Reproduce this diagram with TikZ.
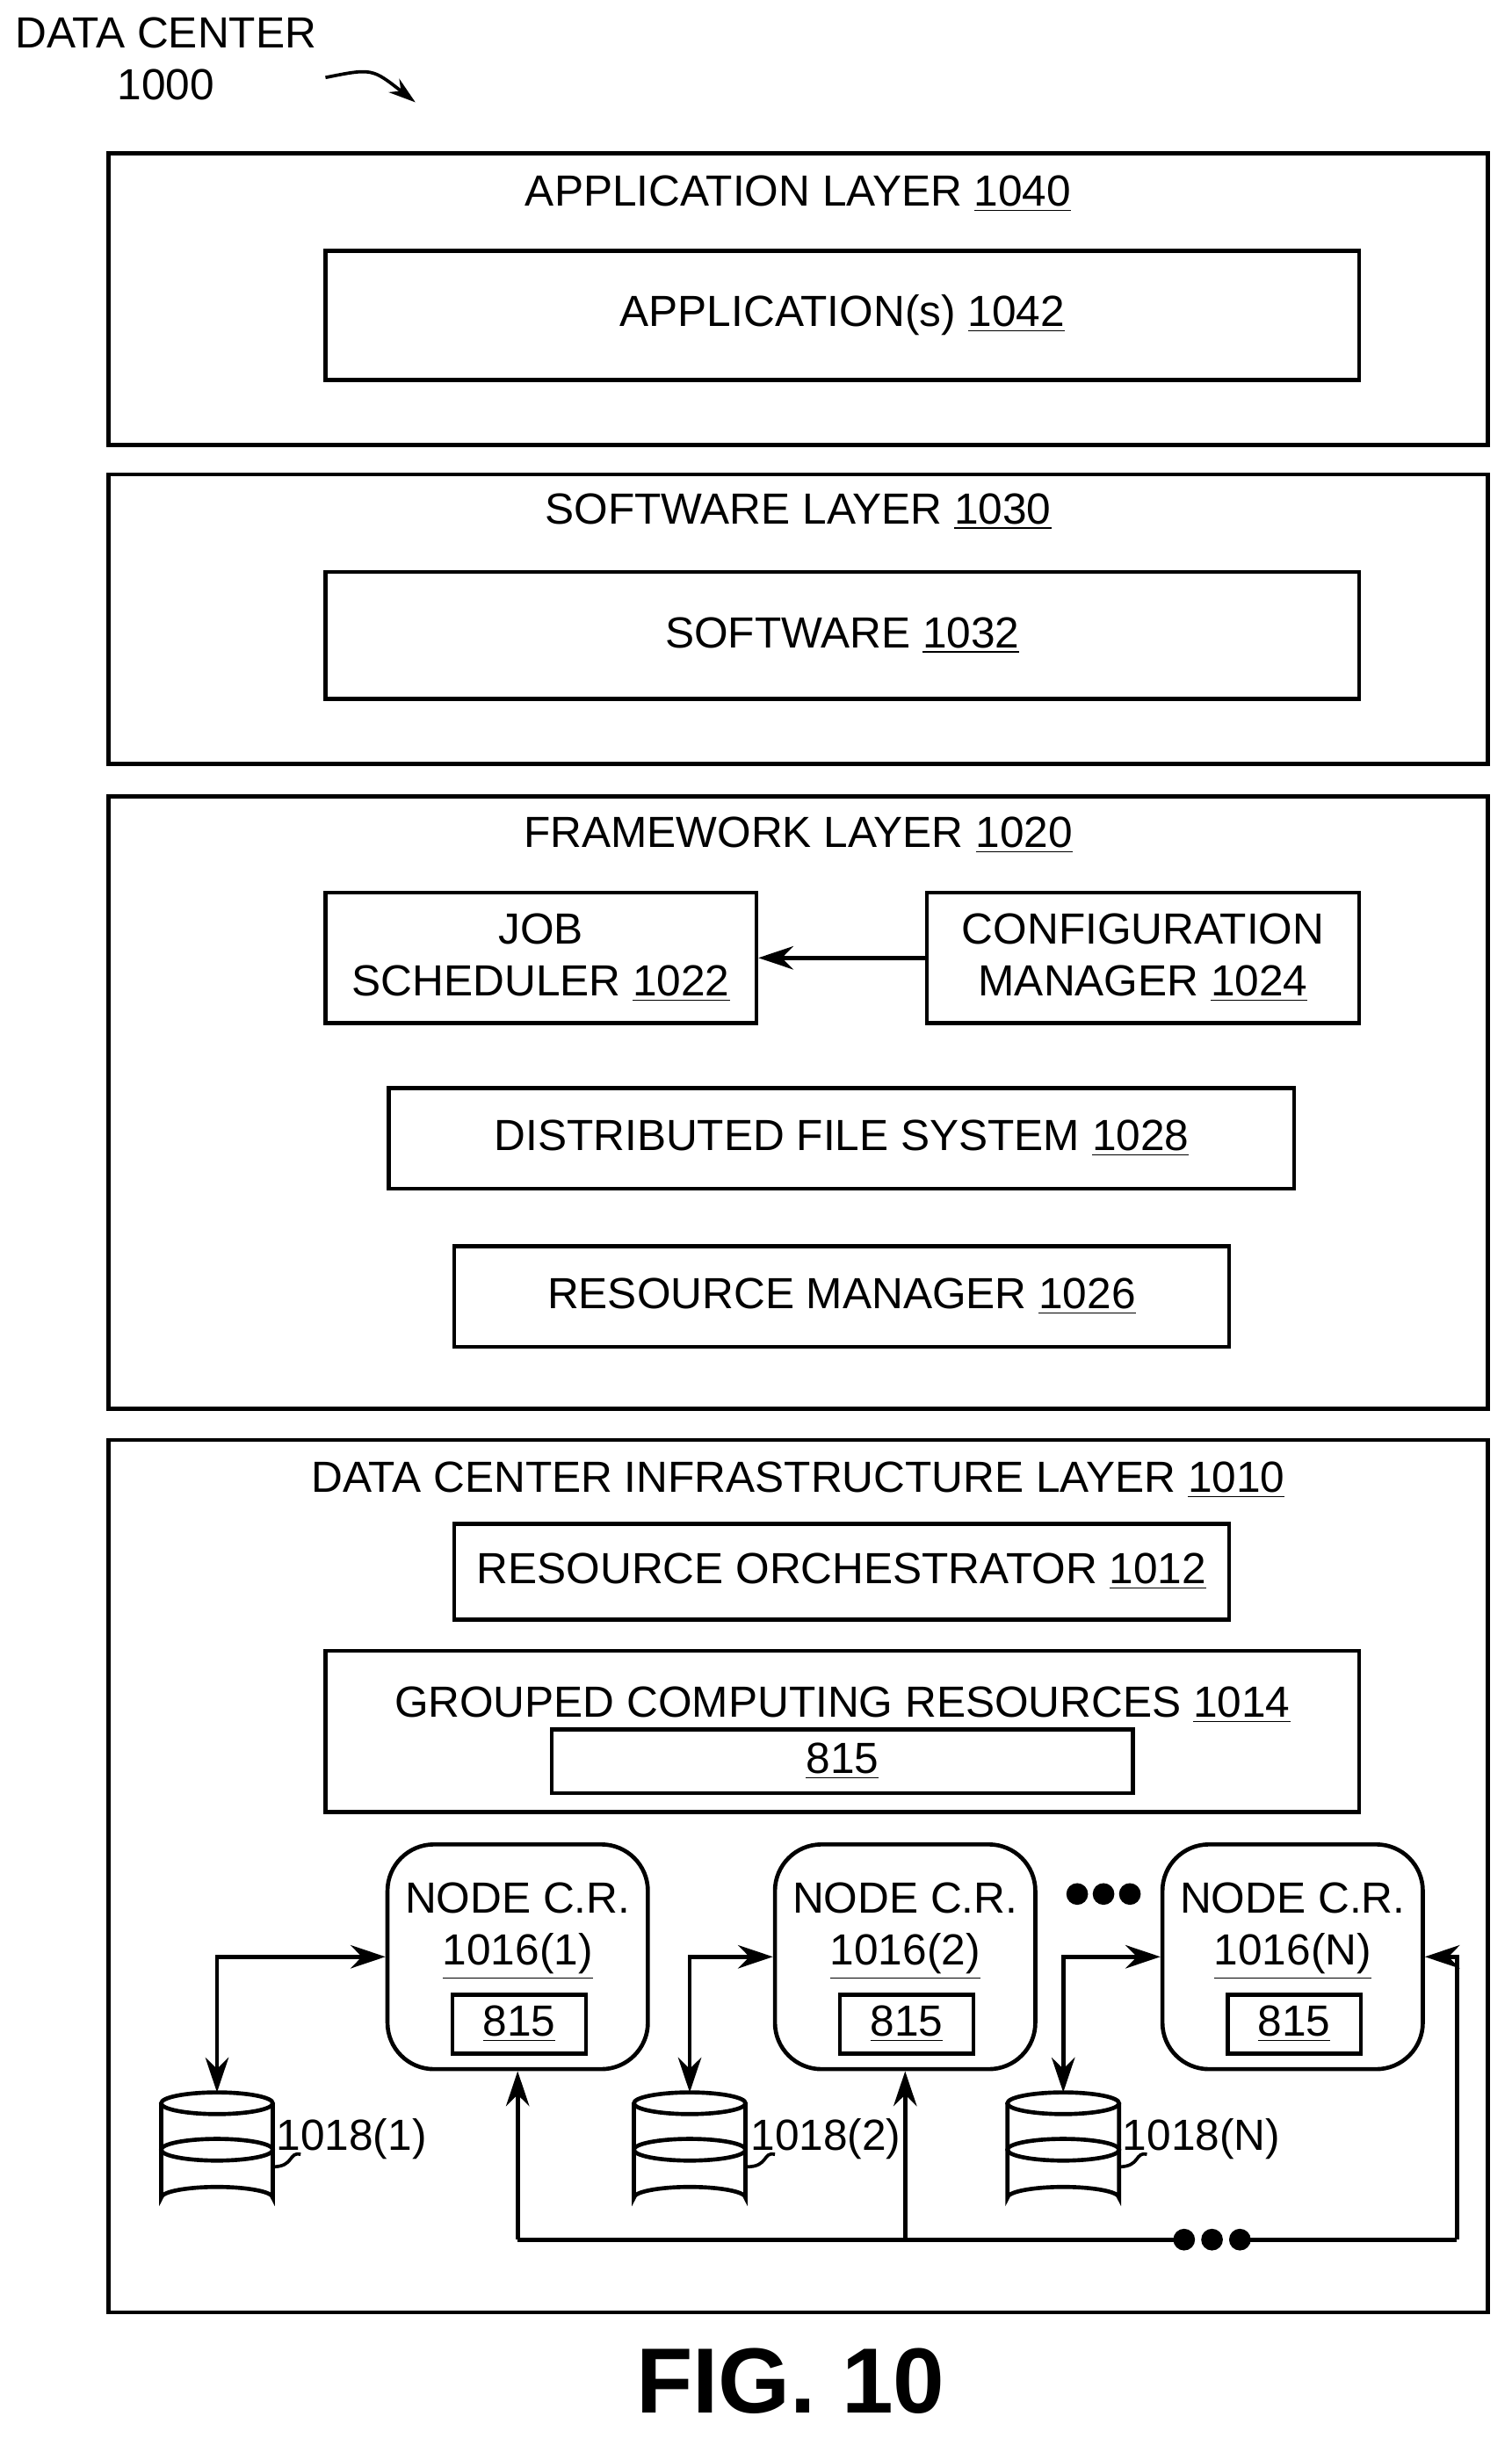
\documentclass[tikz,border=0pt]{standalone}
\usepackage{fontspec}
\setmainfont{Liberation Sans}
\usetikzlibrary{arrows.meta}
\newcommand{\refn}[1]{\underline{#1}}
\tikzset{
  box/.style 2 args={draw, line width=1.5pt, minimum width=#1*0.02cm, minimum height=#2*0.02cm, inner sep=0pt, align=center},
  crnode/.style={box={168}{145}, rounded corners=0.6cm},
  txt/.style={font=\fontsize{16}{19}\selectfont, align=center, inner sep=0pt},
  arr/.style={line width=1.5pt, -{Stealth[length=0.45cm, width=0.3cm]}},
  barr/.style={line width=1.5pt, {Stealth[length=0.45cm, width=0.3cm]}-{Stealth[length=0.45cm, width=0.3cm]}},
  bus/.style={line width=1.5pt},
}
\newcommand{\drum}[2]{% cylinder at top centre #1, name #2
  \begin{scope}[shift={#1}, line width=1.5pt]
    \draw[fill=white] (-36,7) -- (-36,68) arc[start angle=180, end angle=360, x radius=36, y radius=7] -- (36,7);
    \draw (0,7) ellipse[x radius=36, y radius=7];
    \draw (0,37) ellipse[x radius=36, y radius=7];
  \end{scope}
  \coordinate (#2) at #1;
}
\begin{document}
\begin{tikzpicture}[x=0.02cm, y=-0.02cm]
\useasboundingbox (0,0) rectangle (975,1573);

% Title and pointer
\node[txt] (dc) at (107,38) {DATA CENTER\\1000};
\coordinate (p1) at (210,50);
\coordinate (p2) at (268,66);
\draw[line width=1.2pt, -{Stealth[length=0.35cm, width=0.22cm]}] (p1) .. controls (240,44) .. (p2);

% Application layer
\node[box={890}{188}] (app) at (515,193) {};
\node[txt] at (515,125) {APPLICATION LAYER \refn{1040}};
\node[box={667}{83}] (apps) at (543.5,203.5) {\fontsize{16}{19}\selectfont APPLICATION(s) \refn{1042}};

% Software layer
\node[box={890}{187}] (sw) at (515,399.5) {};
\node[txt] at (515,330) {SOFTWARE LAYER \refn{1030}};
\node[box={667}{82}] (soft) at (543.5,410) {\fontsize{16}{19}\selectfont SOFTWARE \refn{1032}};

% Framework layer
\node[box={890}{395}] (fw) at (515,711.5) {};
\node[txt] at (515,539) {FRAMEWORK LAYER \refn{1020}};
\node[box={278}{84}, txt] (job) at (349,618) {JOB\\SCHEDULER \refn{1022}};
\node[box={279}{84}, txt] (cfg) at (737.5,618) {CONFIGURATION\\MANAGER \refn{1024}};
\node[box={584}{65}, txt] (dfs) at (543,734.5) {DISTRIBUTED FILE SYSTEM \refn{1028}};
\node[box={500}{65}, txt] (rm) at (543,836.5) {RESOURCE MANAGER \refn{1026}};
\draw[arr] (cfg) -- (job);

% Infrastructure layer
\node[box={890}{563}] (infra) at (515,1210.5) {};
\node[txt] at (515,955) {DATA CENTER INFRASTRUCTURE LAYER \refn{1010}};
\node[box={500}{62}, txt] (orch) at (543,1014) {RESOURCE ORCHESTRATOR \refn{1012}};
\node[box={667}{104}] (grp) at (543.5,1117) {};
\node[txt] at (543.5,1100) {GROUPED COMPUTING RESOURCES \refn{1014}};
\node[box={375}{41}, txt] (grp815) at (543.5,1136.5) {\refn{815}};

% Node computing resources
\foreach \i/\x/\lab in {1/334/1, 2/584/2, 3/834/N}{
  \node[crnode] (n\i) at (\x,1262.5) {};
  \node[txt] at (\x,1246) {NODE C.R.\\\refn{1016(\lab)}};
  \node[box={86}{38}, txt] (m\i) at (\x+1,1306) {\refn{815}};
}
\foreach \x in {695,712,729}
  \fill (\x,1222) circle[radius=7];

% Storage
\drum{(140,1350)}{d1}
\drum{(445,1350)}{d2}
\drum{(686,1350)}{d3}
\foreach \i/\x/\lab in {1/176/1, 2/482/2, 3/722/N}{
  \node[txt, anchor=west] (l\i) at (\x+2,1380) {1018(\lab)};
  \draw[line width=1.2pt] (\x,1398) .. controls (\x+14,1398) and (\x+10,1388) .. (\x+18,1390);
}
\draw[barr] (d1) |- (n1.west);
\draw[barr] (d2) |- (n2.west);
\draw[barr] (d3) |- (n3.west);

% Bus
\coordinate (bus) at (0,1445);
\coordinate (busE) at (940,1445);
\coordinate (dl) at (760,1445);
\coordinate (dr) at (804,1445);
\draw[bus] (n1.south |- bus) -- (dl);
\draw[bus] (dr) -- (busE);
\foreach \x in {764,782,800}
  \fill (\x,1445) circle[radius=7];
\draw[arr] (n1.south |- bus) -- (n1.south);
\draw[arr] (n2.south |- bus) -- (n2.south);
\draw[arr] (busE) |- (n3.east);

% Figure label
\node[font=\bfseries\fontsize{34}{40}\selectfont, inner sep=0pt] (fig) at (510,1536) {FIG. 10};
\end{tikzpicture}
\end{document}
